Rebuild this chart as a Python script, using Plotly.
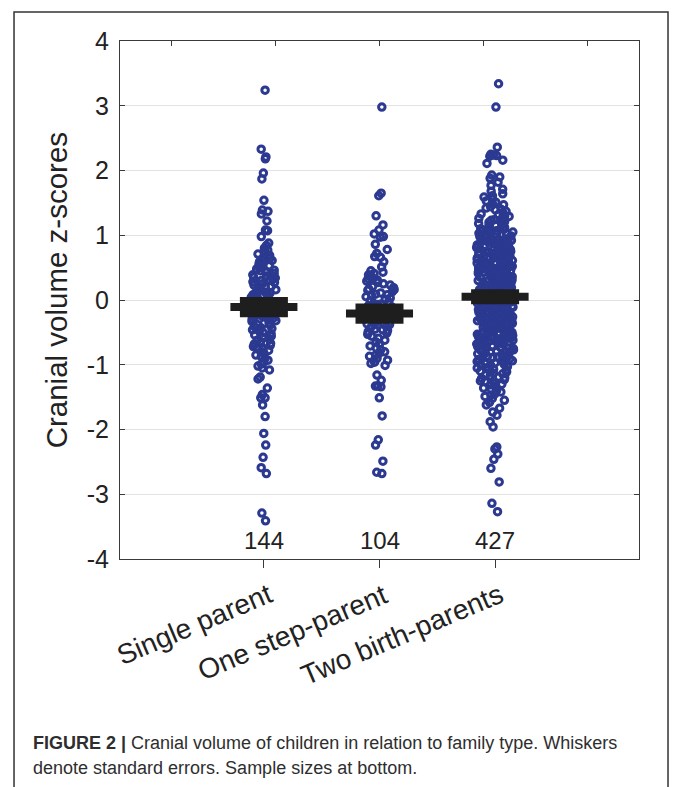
import plotly.graph_objects as go

# ---------------- data ----------------
categories = ["Single parent", "One step-parent", "Two birth-parents"]
sample_sizes = [144, 104, 427]
group_means = [-0.11, -0.21, 0.05]
group_se = [0.155, 0.155, 0.115]
y_tick_values = [-4, -3, -2, -1, 0, 1, 2, 3, 4]
y_tick_labels = ["-4", "-3", "-2", "-1", "0", "1", "2", "3", "4"]
top_tick_values = [0.2, 1.1, 2.0, 2.9, 3.8]

single_parent = [
    3.24, 2.33, 2.21, 2.18, 1.96, 1.87, 1.54, 1.39, 1.37, 1.33, 1.22, 1.08, 1.07, 0.98, 0.88,
    0.84, 0.80, 0.77, 0.74, 0.71, 0.69, 0.66, 0.64, 0.61, 0.59,
    0.57, 0.55, 0.52, 0.50, 0.48, 0.46, 0.45, 0.43, 0.41, 0.39,
    0.37, 0.35, 0.34, 0.32, 0.30, 0.28, 0.27, 0.25, 0.23, 0.21,
    0.20, 0.18, 0.16, 0.15, 0.13, 0.11, 0.10, 0.08, 0.07, 0.05,
    0.04, 0.02, 0.01, -0.01, -0.02, -0.03, -0.05, -0.06, -0.07, -0.08,
    -0.09, -0.10, -0.12, -0.13, -0.14, -0.15, -0.16, -0.18, -0.19, -0.20,
    -0.22, -0.23, -0.24, -0.26, -0.27, -0.29, -0.30, -0.32, -0.33, -0.35,
    -0.36, -0.38, -0.39, -0.41, -0.43, -0.44, -0.46, -0.48, -0.50, -0.52,
    -0.54, -0.56, -0.58, -0.60, -0.62, -0.64, -0.66, -0.68, -0.70, -0.72,
    -0.74, -0.76, -0.78, -0.80, -0.82, -0.85, -0.87, -0.90, -0.93, -0.96,
    -0.99, -1.02, -1.05, 0.62, 0.31, -0.04, -0.11, -0.17, 0.12, -0.25,
    -0.45, 0.53, -0.67,
    -1.08, -1.19, -1.22, -1.36, -1.46, -1.51, -1.51, -1.62, -1.80, -2.06, -2.24, -2.43,
    -2.59, -2.68, -3.29, -3.41,
]

one_step_parent = [
    2.98, 1.65, 1.61, 1.30, 1.16, 1.08, 1.02, 0.98, 0.97, 0.86, 0.78, 0.72, 0.67, 0.66, 0.59, 0.51,
    0.45, 0.43, 0.41, 0.39, 0.37, 0.35, 0.33, 0.31, 0.29, 0.27,
    0.25, 0.23, 0.21, 0.19, 0.17, 0.15, 0.13, 0.11, 0.09, 0.07,
    0.05, 0.03, 0.01, -0.01, -0.03, -0.05, -0.07, -0.09, -0.11, -0.13,
    -0.15, -0.17, -0.19, -0.21, -0.23, -0.25, -0.27, -0.29, -0.31, -0.33,
    -0.35, -0.37, -0.39, -0.41, -0.43, -0.45, -0.47, -0.49, -0.51, -0.53,
    -0.56, -0.59, -0.62, -0.65, -0.68, -0.71, -0.74, -0.77, -0.80, -0.82,
    -0.85, -0.87, -0.90, -0.93, -0.96, -0.98, -1.01, 0.16, -0.06, -0.18,
    -0.28, -0.38, 0.08, -0.46, -0.14, -0.24,
    -1.16, -1.24, -1.33, -1.33, -1.34, -1.51, -1.79, -2.16, -2.24, -2.49, -2.66, -2.68,
]

two_birth_parents = [
    3.34, 2.98, 2.36, 2.25, 2.24, 2.23, 2.22, 2.16, 2.11, 1.93, 1.90,
    1.88, 1.82,
    1.77, 1.71,
    1.68, 1.64, 1.61,
    1.59, 1.56, 1.53, 1.51,
    1.49, 1.47, 1.44, 1.42, 1.40,
    1.39, 1.37, 1.35, 1.33, 1.32, 1.30,
    1.29, 1.28, 1.26, 1.24, 1.23, 1.21, 1.20,
    1.19, 1.18, 1.16, 1.15, 1.14, 1.12, 1.11, 1.10,
    1.09, 1.08, 1.07, 1.06, 1.05, 1.04, 1.03, 1.02, 1.01, 1.00,
    0.99, 0.98, 0.97, 0.96, 0.95, 0.94, 0.93, 0.93, 0.92, 0.91, 0.90,
    0.89, 0.89, 0.88, 0.87, 0.86, 0.85, 0.85, 0.84, 0.83, 0.82, 0.82, 0.81, 0.80,
    0.79, 0.79, 0.78, 0.77, 0.77, 0.76, 0.75, 0.75, 0.74, 0.73, 0.72, 0.72, 0.71, 0.70,
    0.69, 0.69, 0.68, 0.68, 0.67, 0.66, 0.66, 0.65, 0.65, 0.64, 0.63, 0.63, 0.62, 0.61, 0.61, 0.60,
    0.59, 0.59, 0.58, 0.58, 0.57, 0.57, 0.56, 0.56, 0.55, 0.55, 0.54, 0.53, 0.53, 0.52, 0.52, 0.51, 0.50,
    0.49, 0.49, 0.48, 0.48, 0.47, 0.47, 0.46, 0.46, 0.45, 0.45, 0.44, 0.44, 0.43, 0.43, 0.42, 0.41, 0.41, 0.40,
    0.39, 0.39, 0.38, 0.38, 0.37, 0.37, 0.36, 0.36, 0.35, 0.35, 0.34, 0.34, 0.33, 0.33, 0.32, 0.32, 0.31, 0.31, 0.30,
    0.29, 0.29, 0.28, 0.28, 0.27, 0.27, 0.26, 0.26, 0.25, 0.25, 0.24, 0.24, 0.23, 0.23, 0.22, 0.22, 0.21, 0.21, 0.20,
    0.19, 0.19, 0.18, 0.18, 0.17, 0.17, 0.16, 0.16, 0.15, 0.15, 0.14, 0.14, 0.13, 0.13, 0.12, 0.12, 0.11, 0.11, 0.10,
    0.09, 0.09, 0.08, 0.08, 0.07, 0.07, 0.06, 0.06, 0.05, 0.05, 0.04, 0.04, 0.03, 0.03, 0.02, 0.02, 0.01, 0.01, 0.00, 0.00,
    -0.01, -0.01, -0.02, -0.02, -0.03, -0.03, -0.04, -0.04, -0.05, -0.05, -0.06, -0.06, -0.07, -0.07, -0.08, -0.08, -0.09, -0.09, -0.10,
    -0.11, -0.11, -0.12, -0.12, -0.13, -0.13, -0.14, -0.14, -0.15, -0.15, -0.16, -0.16, -0.17, -0.17, -0.18, -0.18, -0.19, -0.19, -0.20,
    -0.21, -0.21, -0.22, -0.22, -0.23, -0.23, -0.24, -0.24, -0.25, -0.25, -0.26, -0.26, -0.27, -0.27, -0.28, -0.28, -0.29, -0.29, -0.30,
    -0.31, -0.31, -0.32, -0.32, -0.33, -0.34, -0.34, -0.35, -0.35, -0.36, -0.36, -0.37, -0.37, -0.38, -0.38, -0.39, -0.39, -0.40,
    -0.41, -0.41, -0.42, -0.42, -0.43, -0.44, -0.44, -0.45, -0.45, -0.46, -0.47, -0.47, -0.48, -0.48, -0.49, -0.49, -0.50,
    -0.51, -0.51, -0.52, -0.53, -0.53, -0.54, -0.55, -0.55, -0.56, -0.56, -0.57, -0.58, -0.58, -0.59, -0.59, -0.60,
    -0.61, -0.62, -0.62, -0.63, -0.64, -0.65, -0.65, -0.66, -0.67, -0.67, -0.68, -0.69, -0.69, -0.70,
    -0.71, -0.72, -0.72, -0.73, -0.74, -0.75, -0.75, -0.76, -0.77, -0.78, -0.78, -0.79, -0.80,
    -0.81, -0.82, -0.83, -0.84, -0.85, -0.85, -0.86, -0.87, -0.88, -0.89, -0.90,
    -0.91, -0.92, -0.93, -0.94, -0.95, -0.96, -0.97, -0.98, -0.99, -1.00,
    -1.01, -1.03, -1.04, -1.05, -1.06, -1.07, -1.08, -1.10,
    -1.11, -1.13, -1.14, -1.16, -1.17, -1.19, -1.20,
    -1.21, -1.23, -1.25, -1.26, -1.28, -1.30,
    -1.31, -1.33, -1.36, -1.38, -1.40,
    -1.42, -1.45, -1.47, -1.49,
    -1.52, -1.55, -1.58,
    -1.62, -1.67,
    -1.73, -1.78,
    -1.88,
    -1.96, -2.27, -2.30, -2.38, -2.46, -2.60, -2.81, -3.14, -3.27,
]

groups = [single_parent, one_step_parent, two_birth_parents]

# ---------------- styling ----------------
BLUE = "#2B3990"
BLACK = "#1E1E1E"
AXIS = "#3A3A3A"
TEXT = "#222222"
FONT = "Liberation Sans, Arial, Helvetica, sans-serif"
strip_widths = [0.26, 0.28, 0.32]
mean_bar_half = 0.29

fig = go.Figure()

for i, vals in enumerate(groups):
    fig.add_trace(go.Box(
        y=vals, x0=i + 1, name=categories[i],
        boxpoints="all", jitter=1, pointpos=0, width=strip_widths[i],
        fillcolor="rgba(0,0,0,0)", line=dict(width=0, color="rgba(0,0,0,0)"),
        marker=dict(symbol="circle-open", size=6.5, color=BLUE,
                    line=dict(width=3, color=BLUE)),
        showlegend=False, hoveron="points",
    ))

for i, (m, se) in enumerate(zip(group_means, group_se)):
    c = i + 1
    fig.add_trace(go.Scatter(
        x=[c, c], y=[m - se, m + se], mode="lines",
        line=dict(color=BLACK, width=48), showlegend=False, hoverinfo="skip"))
    fig.add_trace(go.Scatter(
        x=[c - mean_bar_half, c + mean_bar_half], y=[m, m], mode="lines",
        line=dict(color=BLACK, width=8), showlegend=False, hoverinfo="skip"))

# invisible trace to activate the top axis
fig.add_trace(go.Scatter(x=[2], y=[0], xaxis="x2", mode="markers",
                         marker=dict(opacity=0), showlegend=False, hoverinfo="skip"))

for i, n in enumerate(sample_sizes):
    fig.add_annotation(x=i + 1, y=-3.72, text=str(n), showarrow=False,
                       font=dict(family=FONT, size=24, color=TEXT),
                       xanchor="center", yanchor="middle")

# rotated category labels
for i, name in enumerate(categories):
    fig.add_annotation(x=i + 1, xref="x", y=-0.032, yref="paper", text=name,
                       textangle=-23, showarrow=False, xanchor="right", yanchor="top",
                       xshift=15, font=dict(family=FONT, size=28, color=TEXT))

# y-axis title
fig.add_annotation(xref="paper", yref="paper", x=-0.123, y=0.519,
                   text="Cranial volume z-scores", textangle=-90, showarrow=False,
                   xanchor="center", yanchor="middle",
                   font=dict(family=FONT, size=29.5, color=TEXT))

xr = [-0.245, 4.245]
fig.update_layout(
    width=673, height=787,
    margin=dict(l=120, r=34, t=41, b=228),
    paper_bgcolor="white", plot_bgcolor="white",
    font=dict(family=FONT, color=TEXT),
    xaxis=dict(range=xr, tickvals=[1, 2, 3], ticktext=["", "", ""],
               ticks="outside", ticklen=8, tickcolor=AXIS, tickwidth=1,
               showline=True, linecolor=AXIS, linewidth=1, mirror=False,
               showgrid=False, zeroline=False),
    xaxis2=dict(range=xr, overlaying="x", side="top", tickvals=top_tick_values,
                ticks="inside", ticklen=5, tickcolor=AXIS, showticklabels=False,
                showline=True, linecolor=AXIS, linewidth=1,
                showgrid=False, zeroline=False),
    yaxis=dict(range=[-4, 4], tickvals=y_tick_values, ticktext=y_tick_labels,
               ticks="inside", ticklen=5, tickcolor=AXIS, ticklabelstandoff=5,
               showline=True, linecolor=AXIS, linewidth=1, mirror="ticks",
               showgrid=True, gridcolor="#E2E2E2", gridwidth=1, zeroline=False,
               tickfont=dict(family=FONT, size=25, color=TEXT)),
)

# outer figure frame
fig.add_shape(type="rect", xref="paper", yref="paper",
              x0=-0.2042, x1=1.0559, y0=-0.47, y1=1.056,
              line=dict(color="#333333", width=1.5), fillcolor="rgba(0,0,0,0)")

CAP = "Liberation Sans Narrow, Liberation Sans, Arial, sans-serif"
fig.add_annotation(xref="paper", yref="paper", x=-0.1715, y=-0.3552,
                   xanchor="left", yanchor="middle", showarrow=False, align="left",
                   text="<b>FIGURE 2 |</b> Cranial volume of children in relation to family type. Whiskers",
                   font=dict(family=CAP, size=18, color="#2E2E2E"))
fig.add_annotation(xref="paper", yref="paper", x=-0.1715, y=-0.4035,
                   xanchor="left", yanchor="middle", showarrow=False, align="left",
                   text="denote standard errors. Sample sizes at bottom.",
                   font=dict(family=CAP, size=18, color="#2E2E2E"))

fig.write_html("out.html", config={"displayModeBar": False},
               post_script="document.body.style.margin='0px';")
